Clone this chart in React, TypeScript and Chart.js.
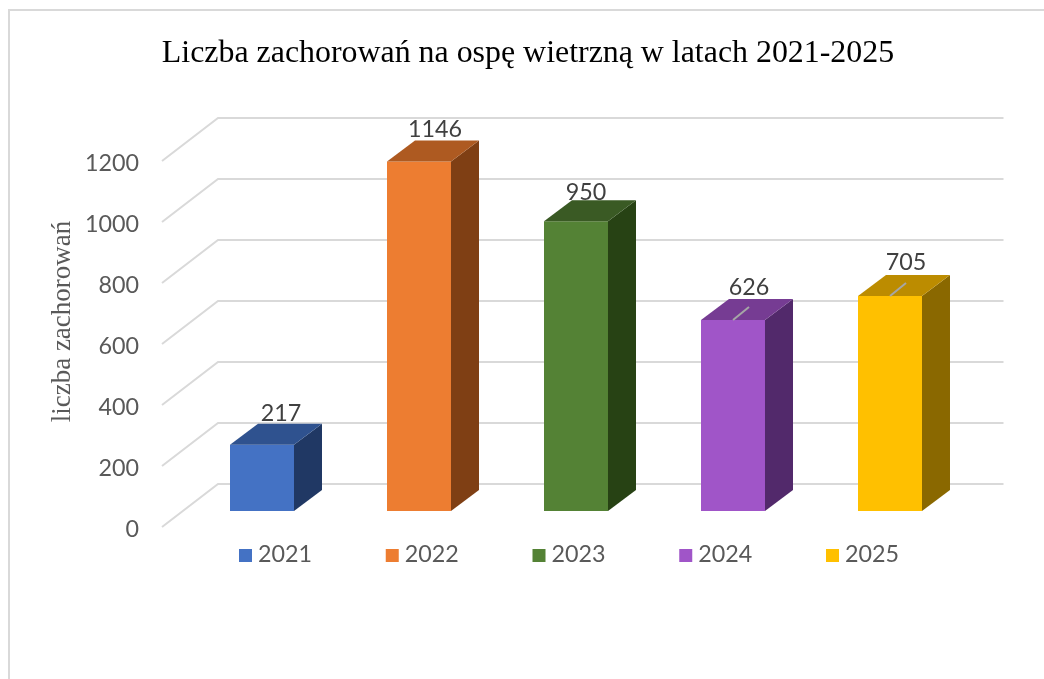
import React, { useEffect, useRef } from "react";
import { Chart, registerables } from "chart.js";

Chart.register(...registerables);

const title = "Liczba zachorowań na ospę wietrzną w latach 2021-2025";
const axisTitle = "liczba zachorowań";
const years = ["2021", "2022", "2023", "2024", "2025"];
const cases = [217, 1146, 950, 626, 705];
const frontColors = ["#4472C4", "#ED7D31", "#548235", "#A055C8", "#FFC000"];
const topColors = ["#2F528F", "#AE5A21", "#3A5A24", "#763C93", "#BC8C00"];
const sideColors = ["#203864", "#7F3F14", "#274214", "#52296B", "#8A6800"];
const labelNudgeX = [3, 0, -6, 0, 0];
const labelNudgeY = [2, 1, 4, 0, 0];
const leaderBars = [3, 4];

const FONT = "Lato";
const SERIF = "'Liberation Serif'";
const TICK_SIZE = 23.3;
const LABEL_DROP = 2; // tick labels sit slightly below the front edge of their gridline
const PLANE_SHIFT = 16 + LABEL_DROP;
const BACK_DX = 56;
const BACK_DY = 43 + LABEL_DROP;
const BAR_DX = 28;
const BAR_DY = 21;

const scene = {
  id: "scene3d",
  afterLayout(chart: any) {
    chart.scales.y.left = 60;
  },
  beforeDraw(chart: any) {
    const { ctx } = chart;
    ctx.save();
    ctx.strokeStyle = "#D9D9D9";
    ctx.lineWidth = 2;
    ctx.beginPath();
    ctx.moveTo(9, 680);
    ctx.lineTo(9, 10);
    ctx.lineTo(1044, 10);
    ctx.stroke();
    ctx.restore();
  },
  beforeDatasetsDraw(chart: any) {
    const { ctx, chartArea } = chart;
    const yScale = chart.scales.y;
    ctx.save();
    ctx.strokeStyle = "#D9D9D9";
    ctx.lineWidth = 2;
    ctx.lineJoin = "miter";
    yScale.ticks.forEach((t: any) => {
      const y = yScale.getPixelForValue(t.value);
      const x0 = chartArea.left - 21.5;
      ctx.beginPath();
      ctx.moveTo(x0, y - LABEL_DROP);
      ctx.lineTo(x0 + BACK_DX, y - BACK_DY);
      ctx.lineTo(chartArea.right + 35, y - BACK_DY);
      ctx.stroke();
    });
    ctx.restore();
    ctx.save();
    ctx.translate(0, -PLANE_SHIFT);
  },
  afterDatasetsDraw(chart: any) {
    const { ctx } = chart;
    ctx.restore();
    const bars = chart.getDatasetMeta(0).data;
    ctx.save();
    bars.forEach((bar: any, i: number) => {
      const p = bar.getProps(["x", "y", "base", "width"], true);
      const l = p.x - p.width / 2;
      const r = p.x + p.width / 2;
      const t = p.y - PLANE_SHIFT;
      const b = p.base - PLANE_SHIFT;
      ctx.fillStyle = sideColors[i];
      ctx.beginPath();
      ctx.moveTo(r, t);
      ctx.lineTo(r + BAR_DX, t - BAR_DY);
      ctx.lineTo(r + BAR_DX, b - BAR_DY);
      ctx.lineTo(r, b);
      ctx.closePath();
      ctx.fill();
      ctx.fillStyle = topColors[i];
      ctx.beginPath();
      ctx.moveTo(l, t);
      ctx.lineTo(l + BAR_DX, t - BAR_DY);
      ctx.lineTo(r + BAR_DX, t - BAR_DY);
      ctx.lineTo(r, t);
      ctx.closePath();
      ctx.fill();
      if (leaderBars.includes(i)) {
        ctx.strokeStyle = "#A6A6A6";
        ctx.lineWidth = 2;
        ctx.beginPath();
        ctx.moveTo(p.x, t);
        ctx.lineTo(p.x + 16, t - 13);
        ctx.stroke();
      }
      ctx.fillStyle = "#404040";
      ctx.font = `${TICK_SIZE}px ${FONT}`;
      ctx.textAlign = "center";
      ctx.textBaseline = "middle";
      ctx.fillText(String(cases[i]), p.x + 16 + labelNudgeX[i], t - 33 + labelNudgeY[i]);
    });

    // legend
    ctx.font = `${TICK_SIZE}px ${FONT}`;
    ctx.textAlign = "left";
    ctx.textBaseline = "middle";
    years.forEach((year, i) => {
      const x = 239 + i * 146.75;
      ctx.fillStyle = frontColors[i];
      ctx.fillRect(x, 549, 13, 13);
      ctx.fillStyle = "#595959";
      ctx.fillText(year, x + 19, 554);
    });

    // axis title
    ctx.translate(70, 321.5);
    ctx.rotate(-Math.PI / 2);
    ctx.font = `27px ${SERIF}`;
    ctx.textAlign = "center";
    ctx.textBaseline = "alphabetic";
    ctx.fillStyle = "#595959";
    ctx.fillText(axisTitle, 0, 0);
    ctx.restore();
  },
};

export default function App() {
  const ref = useRef<HTMLCanvasElement>(null);
  useEffect(() => {
    const chart = new Chart(ref.current!, {
      type: "bar",
      data: {
        labels: years,
        datasets: [
          {
            label: "zachorowania",
            data: cases,
            backgroundColor: frontColors,
            borderWidth: 0,
            categoryPercentage: 1,
            barPercentage: 0.4076,
            clip: false,
          } as any,
        ],
      },
      options: {
        animation: false,
        responsive: false,
        layout: { padding: { left: 87.5, right: 75.5, top: 0, bottom: 150 } },
        plugins: {
          legend: { display: false },
          tooltip: { enabled: false },
          title: {
            display: true,
            text: title,
            color: "#000000",
            font: { family: SERIF, size: 31.9, weight: "normal", lineHeight: 1.2 },
            padding: { top: 34, bottom: 90.7 },
          },
        },
        scales: {
          x: { display: false },
          y: {
            min: 0,
            max: 1200,
            afterFit: (s: any) => {
              s.width = 96;
            },
            border: { display: false },
            grid: { display: false, drawTicks: false },
            ticks: {
              stepSize: 200,
              padding: 44.5,
              color: "#595959",
              font: { family: FONT, size: TICK_SIZE },
              callback: (v: any) => String(v),
            },
          },
        },
      },
      plugins: [scene],
    } as any);
    return () => chart.destroy();
  }, []);
  return (
    <div style={{ position: "absolute", left: 0, top: 0, width: 1044, height: 679, background: "#fff" }}>
      <canvas ref={ref} width={1044} height={679} style={{ display: "block" }} />
    </div>
  );
}
